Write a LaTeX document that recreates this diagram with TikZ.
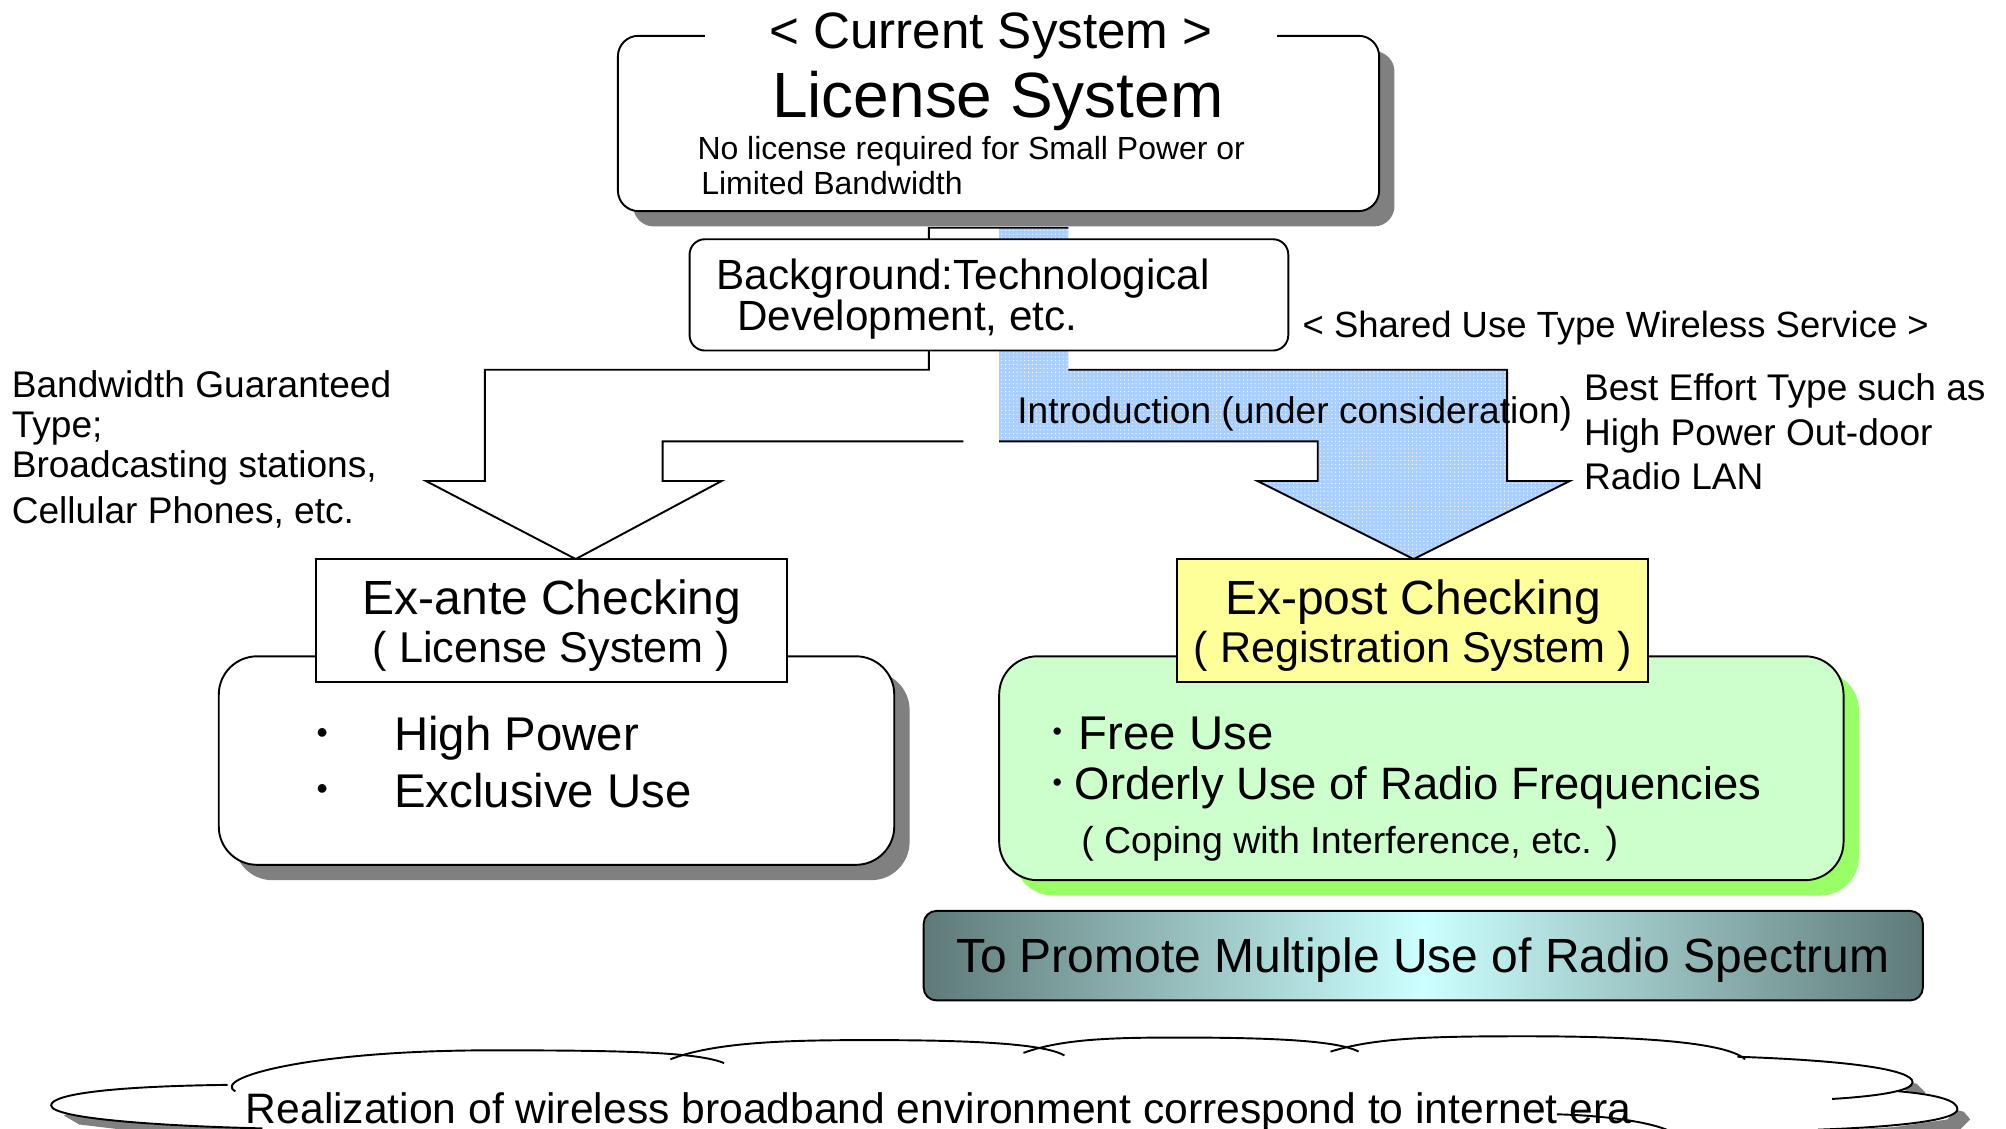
\documentclass[tikz,border=0pt]{standalone}
\usepackage{fontspec}
\setmainfont{Liberation Sans}
\usetikzlibrary{positioning,shadows,patterns}

\definecolor{shadowgray}{HTML}{808080}
\definecolor{notice}{HTML}{FFFF99}
\definecolor{freegreen}{HTML}{CCFFCC}
\definecolor{freeshadow}{HTML}{99FF66}
\definecolor{arrowblue}{HTML}{A8CFFF}
\definecolor{slate}{HTML}{5E7A78}
\definecolor{aqua}{HTML}{CCFFFF}

\newcommand{\txtsize}[1]{\fontsize{#1}{#1}\selectfont}
\newcommand{\dotmark}[2]{\raisebox{#2}{\txtsize{#1}•}}

\tikzset{%
    box/.style={
      draw,
      line width=1.5pt,
      fill=white,
      inner sep=0pt
    },
    round box/.style={
      box,
      rounded corners=#1
    },
    gray shadow/.style={
      drop shadow={shadow xshift=12pt, shadow yshift=-12pt, fill=shadowgray, opacity=1}
    },
    green shadow/.style={
      drop shadow={shadow xshift=12pt, shadow yshift=-12pt, fill=freeshadow, opacity=1}
    },
    label text/.style={
      inner sep=0pt,
      anchor=base west
    },
    mid text/.style={
      inner sep=0pt,
      anchor=base
    },
    outline/.style={
      line width=1.5pt,
      line join=miter
    },
    cloud line/.style={
      line width=1.5pt
    },
    cloud body/.style={
      insert path={(205,905) -- (205,882) -- (120,879) -- (52,871) -- (40,864) -- (52,857)
        -- (110,850) -- (178,848) -- (200,834) -- (260,824) -- (384,821) -- (470,821)
        -- (540,820) -- (600,814) -- (680,813) -- (760,814) -- (815,818) -- (850,813)
        -- (920,811) -- (1000,812) -- (1050,816) -- (1100,811) -- (1192,810) -- (1290,812)
        -- (1350,818) -- (1364,826) -- (1440,831) -- (1488,839) -- (1495,846) -- (1488,852)
        -- (1500,855) -- (1525,861) -- (1530,867) -- (1522,875) -- (1480,881) -- (1421,884)
        -- (1421,905) -- cycle}
    },
    blue arrow body/.style={
      insert path={(781,178) -- (835,178) -- (835,289) -- (1178,289) -- (1178,376) -- (1227,376)
        -- (1105,437) -- (983,376) -- (1030,376) -- (1030,345) -- (781,345) -- cycle}
    }
  }

\begin{document}
\begin{tikzpicture}[x=1pt, y=-1pt]
      \useasboundingbox (0,0) rectangle (1568,882);
      \clip (0,0) rectangle (1568,882);

      % cloud
      \fill[shadowgray, shift={(10,8)}, cloud body];
      \fill[white, cloud body];
      \draw[cloud line] (178,848) .. controls (90,849) and (40,855) .. (40,864) .. controls (40,874) and (120,880) .. (205,882);
      \draw[cloud line] (184,853) .. controls (165,843) and (240,821) .. (384,821) .. controls (480,821) and (545,822) .. (566,831);
      \draw[cloud line] (524,828) .. controls (560,814) and (620,813) .. (680,813) .. controls (750,813) and (815,815) .. (832,825);
      \draw[cloud line] (800,823) .. controls (830,812) and (870,811) .. (920,811) .. controls (990,811) and (1045,813) .. (1062,822);
      \draw[cloud line] (1040,822) .. controls (1075,811) and (1120,810) .. (1192,810) .. controls (1285,810) and (1350,815) .. (1364,828);
      \draw[cloud line] (1358,826) .. controls (1445,829) and (1495,836) .. (1495,846) .. controls (1495,853) and (1465,857) .. (1432,859);
      \draw[cloud line] (1484,853) .. controls (1518,856) and (1530,861) .. (1530,867) .. controls (1530,876) and (1480,881) .. (1421,883);
      \draw[cloud line] (1217,871) .. controls (1255,872) and (1290,877) .. (1305,884);
      \node[label text] (era) at (192,878) {\txtsize{33.3}Realization of wireless broadband environment correspond to internet era};

      % block arrows
      \fill[arrowblue, blue arrow body];
      \fill[pattern=dots, pattern color=white, blue arrow body];
      \draw[outline] (835,289) -- (1178,289) -- (1178,376) -- (1227,376) -- (1105,437) -- (983,376)
        -- (1030,376) -- (1030,345) -- (781,345);
      \draw[outline] (835,178) -- (726,178) -- (726,289) -- (379,289) -- (379,376) -- (333,376)
        -- (450,437) -- (564,376) -- (518,376) -- (518,345) -- (753,345);
      \node[label text] (intro) at (795,331) {\txtsize{29}Introduction (under consideration)};

      % current system
      \node[round box=16pt, gray shadow, minimum width=595pt, minimum height=137pt] (current) at (780.5,96.5) {};
      \node[fill=white, inner sep=0pt, minimum width=447pt, anchor=base] (title) at (774.5,38) {\txtsize{40}< Current System >};
      \node[mid text] (licsys) at (780,92) {\txtsize{50}License System};
      \node[label text] (nolicense) at (545,125) {\txtsize{25}No license required for Small Power or};
      \node[label text] (limited) at (548,152) {\txtsize{25}Limited Bandwidth};

      \node[round box=12pt, minimum width=468pt, minimum height=87pt] (background) at (773,230.5) {};
      \node[label text] (bgline1) at (560,226) {\txtsize{33}Background:Technological};
      \node[label text] (bgline2) at (576,258) {\txtsize{33}Development, etc.};

      \node[label text] (shared) at (1018,264) {\txtsize{28.5}< Shared Use Type Wireless Service >};

      \node[label text] (guar1) at (9,311) {\txtsize{29}Bandwidth Guaranteed};
      \node[label text] (guar2) at (9,342) {\txtsize{29}Type;};
      \node[label text] (guar3) at (9,373) {\txtsize{29}Broadcasting stations,};
      \node[label text] (guar4) at (9,409) {\txtsize{29}Cellular Phones, etc.};

      \node[label text] (best1) at (1238,313) {\txtsize{29}Best Effort Type such as};
      \node[label text] (best2) at (1238,348) {\txtsize{29}High Power Out-door};
      \node[label text] (best3) at (1238,383) {\txtsize{29}Radio LAN};

      % ex-ante side
      \node[round box=30pt, gray shadow, minimum width=528pt, minimum height=163pt] (licbox) at (435,594.5) {};
      \node[box, minimum width=368pt, minimum height=96pt] (exante) at (431,485) {};
      \node[mid text] (exante1) at (431.5,480) {\txtsize{37.5}Ex-ante Checking};
      \node[mid text] (exante2) at (431,518) {\txtsize{33.7}( License System )};
      \node[label text] (highpower) at (308,587) {\txtsize{37}\llap{\dotmark{25}{6pt}\hspace{52pt}}High Power};
      \node[label text] (exclusive) at (308,631) {\txtsize{37}\llap{\dotmark{25}{6pt}\hspace{52pt}}Exclusive Use};

      % ex-post side
      \node[round box=30pt, fill=freegreen, green shadow, minimum width=660pt, minimum height=175pt] (freebox) at (1111,600.5) {};
      \node[box, fill=notice, minimum width=368pt, minimum height=96pt] (expost) at (1104,485) {};
      \node[mid text] (expost1) at (1104.5,480) {\txtsize{37.5}Ex-post Checking};
      \node[mid text] (expost2) at (1104.5,518) {\txtsize{33.7}( Registration System )};
      \node[label text] (freeuse) at (843,586) {\txtsize{37}\llap{\dotmark{21}{7pt}\hspace{13pt}}Free Use};
      \node[label text] (orderly) at (840,625) {\txtsize{35.5}\llap{\dotmark{21}{6pt}\hspace{10pt}}Orderly Use of Radio Frequencies};
      \node[label text] (coping) at (845,667) {\txtsize{29.3}( Coping with Interference, etc. )};

      \node[round box=10pt, left color=slate, right color=slate, middle color=aqua, minimum width=781pt, minimum height=70pt] (promote) at (1112.5,747) {};
      \node[mid text] (promotetext) at (1112,760.5) {\txtsize{37.5}To Promote Multiple Use of Radio Spectrum};
\end{tikzpicture}
\end{document}
